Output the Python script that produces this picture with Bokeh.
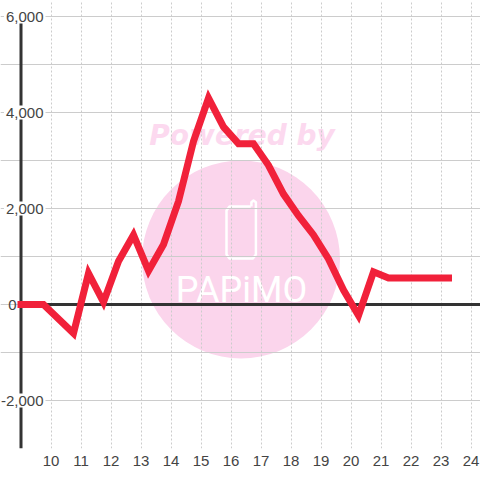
from bokeh.plotting import figure
from bokeh.models import FixedTicker, Label
from bokeh.core.properties import value
from bokeh.embed import file_html
from bokeh.resources import INLINE

hours = [9, 9.25, 9.75, 10.75, 11.25, 11.75, 12.25, 12.75, 13.25, 13.75, 14.25, 14.75, 15.25, 15.75,
         16.25, 16.75, 17.25, 17.75, 18.25, 18.75, 19.25, 19.75, 20.25, 20.75, 21.25, 21.75, 22.25, 22.75, 23.25]
net = [0, 0, 0, -600, 650, 50, 900, 1450, 700, 1250, 2150, 3400, 4300, 3700,
       3350, 3350, 2900, 2300, 1850, 1450, 950, 300, -230, 680, 550, 550, 550, 550, 550]
x_ticks = list(range(10, 25))
y_grid_values = [-3000, -2000, -1000, 0, 1000, 2000, 3000, 4000, 5000, 6000]
y_tick_values = [6000, 4000, 2000, 0, -2000]
y_tick_labels = ["6,000", "4,000", "2,000", "0", "-2,000"]
y_tick_label_x = [9.817, 9.817, 9.817, 8.917, 9.817]

X0, X1 = 9 - 20.5 / 30, 9 + 459.5 / 30
Y0, Y1 = -3000, 6000 + 16 / 48 * 1000
p = figure(width=480, height=472, x_range=(X0, X1), y_range=(Y0, Y1),
           y_axis_location=None, toolbar_location=None, output_backend="svg",
           min_border_left=0, min_border_right=0, min_border_top=0, min_border_bottom=24)
p.outline_line_color = None
p.background_fill_color = "white"

# watermark
WM = "#fbd5ec"
p.circle([16.333], [937], radius=3.3, fill_color=WM, line_color=None, level="image")
p.text([16.37], [3530], text=["Powered by"], text_font=value("DejaVu Sans"), text_font_style="bold italic",
       text_font_size="28px", text_color="#fcd9ef", text_align="center", text_baseline="alphabetic", level="image")
p.text([16.35], [312], text=["PAPiMO"], text_font=value("Roboto"), text_font_size="36px",
       text_color="white", text_align="center", text_baseline="alphabetic", level="image")
phone_x = [16.66, 15.95, 15.85, 15.85, 15.95, 16.73, 16.83, 16.83, 16.75, 16.68, 16.68]
phone_y = [2040, 2040, 1960, 1040, 960, 960, 1040, 2130, 2165, 2130, 2040]
p.line(phone_x, phone_y, line_color="white", line_width=2.5, line_join="round", level="image")

# grid
yg = p.ygrid[0]
yg.ticker = FixedTicker(ticks=y_grid_values)
yg.grid_line_color = "#cccccc"
yg.grid_line_width = 1
yg.bounds = (9, X1)
xg = p.xgrid[0]
xg.ticker = FixedTicker(ticks=x_ticks)
xg.grid_line_color = "#cccccc"
xg.grid_line_dash = "2 2"
xg.grid_line_width = 1
xg.bounds = (-3000, 6000)

# x axis
ax = p.xaxis[0]
ax.ticker = FixedTicker(ticks=x_ticks)
ax.axis_line_color = None
ax.major_tick_line_color = None
ax.minor_tick_line_color = None
ax.major_label_text_font = "Liberation Sans"
ax.major_label_text_font_size = "15px"
ax.major_label_text_color = "#444444"
ax.major_label_standoff = 1

# bold axes
p.segment([9, 9], [0, -3000], [X1, 9], [0, 6000], line_color="#333333", line_width=3)

p.line(hours, net, line_color="#f1213a", line_width=7, line_cap="square", line_join="miter")

for lx, v, t in zip(y_tick_label_x, y_tick_values, y_tick_labels):
    p.add_layout(Label(x=lx, y=v, text=t, text_align="right", text_baseline="middle",
                       text_font="Liberation Sans", text_font_size="15px", text_color="#444444",
                       background_fill_color=None if v == 0 else "white", padding=2))

open("out.html", "w").write(file_html(p, INLINE))
